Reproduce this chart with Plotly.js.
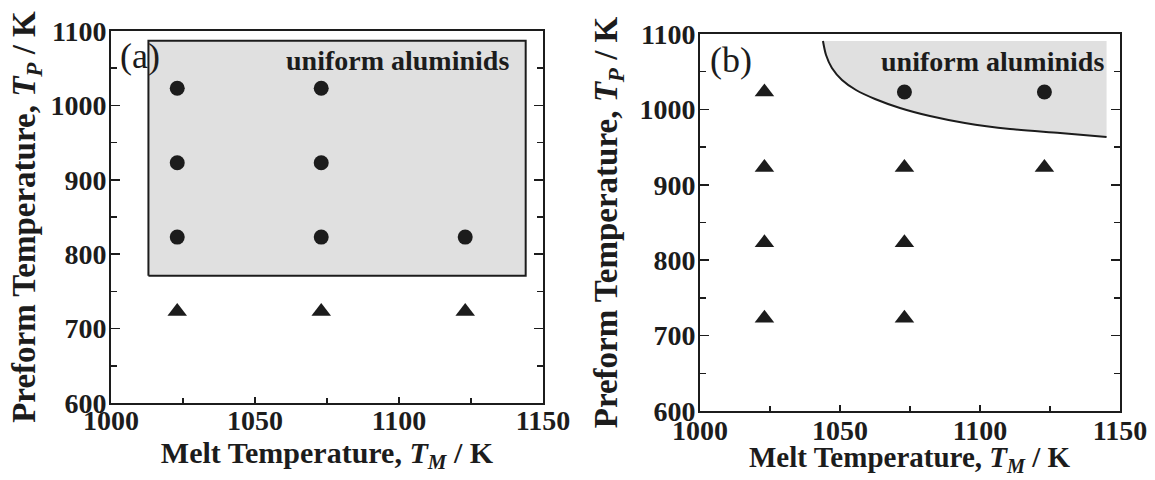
<!DOCTYPE html>
<html>
<head>
<meta charset="utf-8">
<script src="https://cdn.plot.ly/plotly-3.0.1.min.js"></script>
<style>html,body{margin:0;padding:0;background:#fff;}#chart{width:1155px;height:480px;}</style>
</head>
<body>
<div id="chart"></div>
<script>
// ---------- Panel (a) ----------
const aCircleTM = [1023, 1073, 1023, 1073, 1023, 1073, 1123];
const aCircleTP = [1023, 1023, 923, 923, 823, 823, 823];
const aTriangleTM = [1023, 1073, 1123];
const aTriangleTP = [723, 723, 723];
const aRegionTM = [1013, 1144, 1144, 1013, 1013];
const aRegionTP = [771, 771, 1087, 1087, 771];

// ---------- Panel (b) ----------
const bCircleTM = [1073, 1123];
const bCircleTP = [1023, 1023];
const bTriangleTM = [1023, 1023, 1073, 1123, 1023, 1073, 1023, 1073];
const bTriangleTP = [1023, 923, 923, 923, 823, 823, 723, 723];
const bBoundaryTM = [1043.9, 1045.0, 1047.1, 1050.7, 1055.7, 1062.5, 1071.4, 1082.1, 1094.6, 1110.7, 1128.6, 1145.2];
const bBoundaryTP = [1090.7, 1072.1, 1054.9, 1039.0, 1025.7, 1013.8, 1001.9, 991.2, 982.0, 974.0, 968.7, 963.4];
const bRegionTopTM = [1043.9, 1145.2];
const bRegionTopTP = [1090.7, 1090.7];

// ---------- Labels ----------
const xTickVals = [1000, 1050, 1100, 1150];
const yTickVals = [600, 700, 800, 900, 1000, 1100];
const regionLabel = 'uniform aluminids';
const panelLabels = ['(a)', '(b)'];
const xTitle = 'Melt Temperature, <i>T<sub>M</sub></i> / K';
const yTitle = 'Preform Temperature, <i>T<sub>P</sub></i> / K';

const FAM = '"Liberation Serif", "Times New Roman", serif';
const INK = '#1c1c1c';
const shade = 'rgb(224,224,224)';

const circleMarker = {symbol: 'circle', size: 15, color: INK};
const triMarker = {symbol: 'triangle-up', size: 17, color: INK};

const traces = [
  {x: aRegionTM, y: aRegionTP, xaxis: 'x', yaxis: 'y', mode: 'lines', fill: 'toself',
   fillcolor: shade, line: {color: INK, width: 2}, hoverinfo: 'skip'},
  {x: aCircleTM, y: aCircleTP, xaxis: 'x', yaxis: 'y', mode: 'markers', marker: circleMarker},
  {x: aTriangleTM, y: aTriangleTP, xaxis: 'x', yaxis: 'y', mode: 'markers', marker: triMarker},
  {x: bRegionTopTM, y: bRegionTopTP, xaxis: 'x2', yaxis: 'y2', mode: 'lines',
   line: {width: 0, color: shade}, hoverinfo: 'skip'},
  {x: bBoundaryTM, y: bBoundaryTP, xaxis: 'x2', yaxis: 'y2', mode: 'lines', fill: 'tonexty',
   fillcolor: shade, line: {color: INK, width: 2, shape: 'spline', smoothing: 0.8}},
  {x: bCircleTM, y: bCircleTP, xaxis: 'x2', yaxis: 'y2', mode: 'markers', marker: circleMarker},
  {x: bTriangleTM, y: bTriangleTP, xaxis: 'x2', yaxis: 'y2', mode: 'markers', marker: triMarker}
];

function xAxis(domain, anchor, labelShift, titleText) {
  return {
    domain: domain, anchor: anchor, range: [1000, 1150], tickvals: xTickVals,
    ticks: 'inside', ticklen: 6, tickwidth: 1.5, tickcolor: INK,
    minor: {dtick: 25, tick0: 1000, ticks: 'inside', ticklen: 5, tickwidth: 1.5, tickcolor: INK},
    showline: true, linewidth: 2, linecolor: INK, mirror: true,
    showgrid: false, zeroline: false, automargin: false,
    ticklabelstandoff: labelShift,
    tickfont: {family: FAM, size: 28, color: INK, weight: 'bold'},
    title: {text: titleText, font: {family: FAM, size: 30, color: INK, weight: 'bold'}, standoff: 4}
  };
}
function yAxis(domain, anchor, standoff) {
  return {
    domain: domain, anchor: anchor, range: [600, 1100], tickvals: yTickVals,
    ticks: 'inside', ticklen: 9, tickwidth: 1.5, tickcolor: INK,
    minor: {dtick: 50, tick0: 600, ticks: 'inside', ticklen: 6, tickwidth: 1.5, tickcolor: INK},
    showline: true, linewidth: 2, linecolor: INK, mirror: 'allticks',
    showgrid: false, zeroline: false, automargin: false,
    ticklabelstandoff: -3,
    tickfont: {family: FAM, size: 28, color: INK, weight: 'bold'},
    title: {text: yTitle, font: {family: FAM, size: 33, color: INK, weight: 'bold'}, standoff: standoff}
  };
}

const layout = {
  width: 1155, height: 480,
  margin: {l: 0, r: 0, t: 0, b: 0},
  paper_bgcolor: 'white', plot_bgcolor: 'rgba(0,0,0,0)',
  showlegend: false,
  xaxis: xAxis([0.0961, 0.4701], 'y', -9, xTitle),
  yaxis: yAxis([0.1604, 0.9354], 'x', 5),
  xaxis2: xAxis([0.6061, 0.9697], 'y2', -7, ''),
  yaxis2: yAxis([0.1438, 0.9292], 'x2', 12),
  annotations: [
    {xref: 'paper', yref: 'paper', x: 0.7879, y: 0.043, xanchor: 'center', yanchor: 'middle', showarrow: false,
     text: xTitle, font: {family: FAM, size: 29, color: INK, weight: 'bold'}},
    {xref: 'x', yref: 'y', x: 1139, y: 1060, xanchor: 'right', yanchor: 'middle', showarrow: false,
     text: regionLabel, font: {family: FAM, size: 28, color: INK, weight: 'bold'}},
    {xref: 'x2', yref: 'y2', x: 1145, y: 1063, xanchor: 'right', yanchor: 'middle', showarrow: false,
     text: regionLabel, font: {family: FAM, size: 28, color: INK, weight: 'bold'}},
    {xref: 'x', yref: 'y', x: 1010, y: 1067, xanchor: 'center', yanchor: 'middle', showarrow: false,
     text: panelLabels[0], font: {family: FAM, size: 36, color: INK}},
    {xref: 'x2', yref: 'y2', x: 1011, y: 1065, xanchor: 'center', yanchor: 'middle', showarrow: false,
     text: panelLabels[1], font: {family: FAM, size: 36, color: INK}}
  ]
};

Plotly.newPlot('chart', traces, layout, {staticPlot: true, displayModeBar: false});
</script>
</body>
</html>
